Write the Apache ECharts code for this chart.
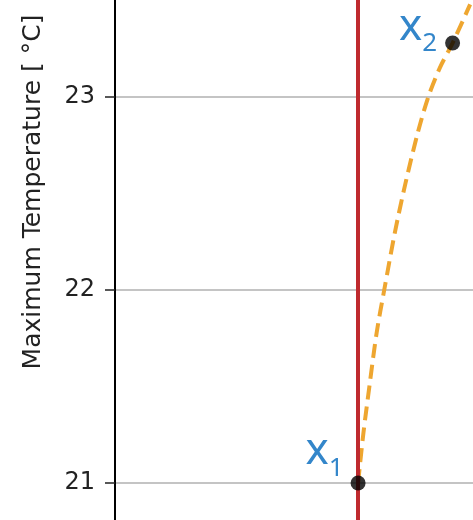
<!DOCTYPE html>
<html>
<head>
<meta charset="utf-8">
<script src="https://cdn.jsdelivr.net/npm/echarts@6/dist/echarts.min.js"></script>
<style>html,body{margin:0;padding:0;background:#fff;}#chart{width:473px;height:520px;}</style>
</head>
<body>
<div id="chart"></div>
<script>
// Data
const yTicks = [21, 22, 23];
const yRange = [20.808, 23.503];
const xRange = [0, 10];
const curveX = [6.79, 6.94, 7.12, 7.31, 7.52, 7.82, 8.11, 8.45, 8.75, 9.07, 9.43, 9.92];
const curveY = [21.00, 21.26, 21.52, 21.78, 22.00, 22.30, 22.55, 22.81, 23.00, 23.15, 23.28, 23.48];
const pointLabels = ['1', '2'];
const pointX = [6.79, 9.43];
const pointY = [21.00, 23.28];
const boundaryX = 6.79;
const yName = 'Maximum Temperature [ °C]';

const chart = echarts.init(document.getElementById('chart'), null, {renderer: 'canvas'});
const labelOffsets = [[5, -31], [4, -16]];
const option = {
  animation: false,
  backgroundColor: '#ffffff',
  grid: {left: 115, right: 0, top: 0, bottom: 0, containLabel: false},
  xAxis: {
    type: 'value', min: xRange[0], max: xRange[1], show: false,
    splitLine: {show: false}
  },
  yAxis: {
    type: 'value', min: yRange[0], max: yRange[1],
    name: yName, nameLocation: 'middle', nameGap: 69, nameRotate: 90,
    nameTextStyle: {fontFamily: 'DejaVu Sans', fontSize: 25, color: '#222', padding: [0, 0, 0, 136]},
    axisLine: {show: true, lineStyle: {color: '#000', width: 2}},
    axisTick: {show: true, inside: false, length: 10, lineStyle: {color: '#222', width: 1.5}, customValues: yTicks},
    axisLabel: {customValues: yTicks, margin: 20, fontFamily: 'DejaVu Sans', fontSize: 24, color: '#222'},
    splitLine: {show: true, lineStyle: {color: '#b0b0b0', width: 1.5}}
  },
  series: [
    {
      type: 'line', data: [], silent: true,
      markLine: {
        silent: true, symbol: 'none', label: {show: false},
        lineStyle: {color: '#bf2a2e', width: 4, type: 'solid'},
        data: [{xAxis: boundaryX}]
      }
    },
    {
      type: 'line', smooth: 0.3, showSymbol: false, silent: true,
      data: curveX.map((x, i) => [x, curveY[i]]),
      lineStyle: {color: '#eea630', width: 4, type: [14, 7]}
    },
    {
      type: 'scatter', symbol: 'circle', symbolSize: 15, silent: true,
      itemStyle: {color: '#000'},
      data: pointX.map((x, i) => ({
        value: [x, pointY[i]],
        label: {
          show: true, position: 'left', distance: 12, offset: labelOffsets[i],
          formatter: '{x|x}{s|' + pointLabels[i] + '}',
          rich: {
            x: {fontFamily: 'Noto Sans', fontSize: 44, color: '#0068bd', lineHeight: 44, verticalAlign: 'bottom'},
            s: {fontFamily: 'Noto Sans', fontSize: 26, color: '#0068bd', lineHeight: 44, verticalAlign: 'bottom', padding: [0, 0, -8, 0]}
          }
        }
      })),
      z: 5
    }
  ]
};
chart.setOption(option);
</script>
</body>
</html>
